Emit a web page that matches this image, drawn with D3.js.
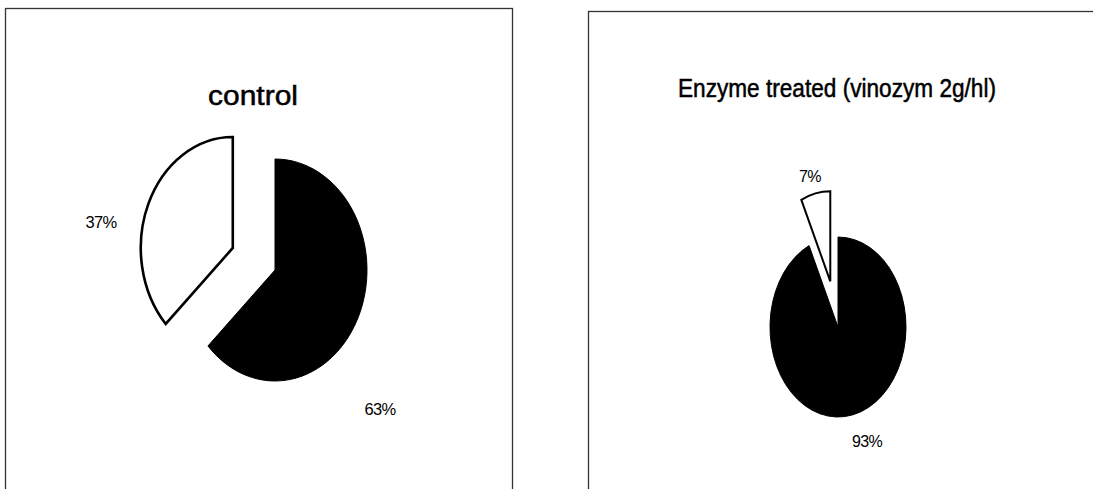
<!DOCTYPE html>
<html>
<head>
<meta charset="utf-8">
<script src="https://cdn.jsdelivr.net/npm/d3@7"></script>
<style>
  html, body { margin: 0; padding: 0; background: #fff; }
  svg { display: block; }
  text { font-family: "Liberation Sans", Arial, sans-serif; fill: #000; }
</style>
</head>
<body>
<svg id="chart" width="1093" height="489"></svg>
<script>
// Share of each fraction, in percent
const panelTitles = ["control", "Enzyme treated (vinozym 2g/hl)"];
const fractions = ["fraction A", "fraction B"];
const controlValues = [63, 37];
const enzymeValues = [93, 7];
const valueLabels = [["63%", "37%"], ["93%", "7%"]];

const seriesValues = [controlValues, enzymeValues];

// Layout of the two framed pies
const layout = [
  {
    frame: { x: 5.5, y: 8.5, w: 507, h: 500 },
    cx: 275, cy: 270, rx: 92, ry: 111,
    title: { x: 253, y: 105, size: 27, length: 90 },
    explode: [0, 0.5],
    stroke: 2.6,
    labelOffsets: [[105, 145], [-174, -42]],
    labelSize: 16.5
  },
  {
    frame: { x: 588.5, y: 11.5, w: 506, h: 500 },
    cx: 838, cy: 327, rx: 68, ry: 90,
    title: { x: 837, y: 97, size: 25, length: 318 },
    explode: [0, 0.52],
    stroke: 2,
    labelOffsets: [[29, 120], [-28, -145]],
    labelSize: 16
  }
];

const svg = d3.select("#chart");
const R = 100;
const pie = d3.pie().sort(null).value(d => d.value);
const arc = d3.arc().innerRadius(0).outerRadius(R);
const fill = d3.scaleOrdinal().domain(fractions).range(["#000", "#fff"]);

layout.forEach((L, p) => {
  const g = svg.append("g");

  // frame
  g.append("rect")
    .attr("x", L.frame.x).attr("y", L.frame.y)
    .attr("width", L.frame.w).attr("height", L.frame.h)
    .attr("fill", "none").attr("stroke", "#333").attr("stroke-width", 1.3);

  // title
  g.append("text")
    .attr("x", L.title.x).attr("y", L.title.y)
    .attr("text-anchor", "middle")
    .attr("font-size", L.title.size)
    .attr("textLength", L.title.length)
    .attr("lengthAdjust", "spacingAndGlyphs")
    .attr("stroke", "#000")
    .attr("stroke-width", 0.5)
    .text(panelTitles[p]);

  const data = fractions.map((f, i) => ({ name: f, value: seriesValues[p][i], label: valueLabels[p][i] }));
  const arcs = pie(data);

  // elliptical pie: circular arcs scaled to the ellipse radii
  const pg = g.append("g")
    .attr("transform", `translate(${L.cx},${L.cy}) scale(${L.rx / R},${L.ry / R})`);

  pg.selectAll("path")
    .data(arcs)
    .join("path")
    .attr("transform", (d, i) => {
      const mid = (d.startAngle + d.endAngle) / 2;
      const k = L.explode[i] * R;
      return `translate(${Math.sin(mid) * k},${-Math.cos(mid) * k})`;
    })
    .attr("d", arc)
    .attr("fill", d => fill(d.data.name))
    .attr("stroke", "#000")
    .attr("stroke-width", (d, i) => i === 0 ? 1 : L.stroke)
    .attr("stroke-linejoin", "miter")
    .attr("vector-effect", "non-scaling-stroke");

  // value labels
  g.selectAll("text.value")
    .data(arcs)
    .join("text")
    .attr("class", "value")
    .attr("x", (d, i) => L.cx + L.labelOffsets[i][0])
    .attr("y", (d, i) => L.cy + L.labelOffsets[i][1])
    .attr("text-anchor", "middle")
    .attr("font-size", L.labelSize)
    .attr("letter-spacing", -0.6)
    .text(d => d.data.label);
});
</script>
</body>
</html>
